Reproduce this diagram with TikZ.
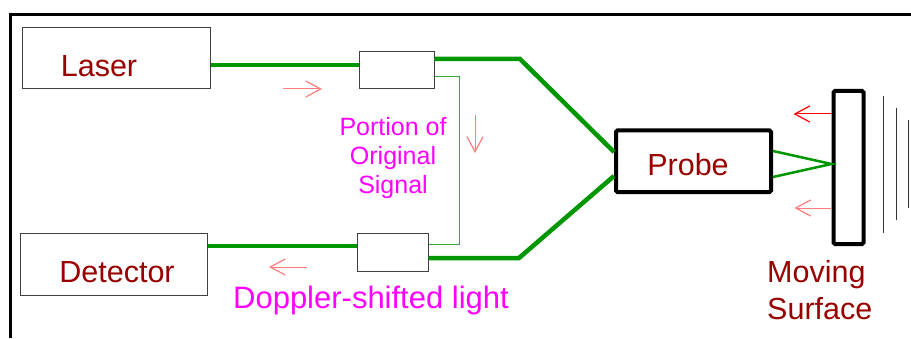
\documentclass[tikz,border=0pt]{standalone}
\usepackage{fontspec}
\setmainfont{Liberation Sans}
\usetikzlibrary{arrows.meta}
\definecolor{fibergreen}{RGB}{0,150,0}
\definecolor{darkred}{RGB}{153,0,0}
\definecolor{lightred}{RGB}{255,125,125}
\definecolor{pinktext}{RGB}{255,0,255}

\begin{document}
\begin{tikzpicture}[x=1pt,y=1pt,
  box/.style={rectangle,draw=black!75,line width=1pt,inner sep=0pt},
  heavybox/.style={rectangle,draw,line width=4pt,rounded corners=1.5pt,inner sep=0pt},
  fiber/.style={draw=fibergreen,line width=4.5pt},
  redarrow/.style={-{Straight Barb[length=15pt,width=16pt,line width=1.2pt]},line width=1pt,draw=lightred},
  bigtext/.style={font=\fontsize{30.5}{37}\selectfont,text=darkred,inner sep=0pt}]
  \useasboundingbox (0,0) rectangle (911,338);
  % frame
  \draw[line width=3pt] (10,0) -- (10,323) -- (911,323);

  % boxes
  \node[box,minimum width=188pt,minimum height=61pt] (laser) at (116,279.5) {};
  \node[box,minimum width=187pt,minimum height=62pt] (detector) at (113.5,74) {};
  \node[box,minimum width=75pt,minimum height=37pt] (cplA) at (396.5,267.5) {};
  \node[box,minimum width=71pt,minimum height=38pt] (cplB) at (392.5,86) {};
  \node[heavybox,minimum width=155pt,minimum height=61.5pt] (probe) at (693.5,176.75) {};
  \node[heavybox,minimum width=30pt,minimum height=153pt] (surface) at (848.5,170.5) {};

  % labels
  \node[bigtext,anchor=base] (laserText) at (99,261) {Laser};
  \node[bigtext,anchor=base] (detectorText) at (117,56) {Detector};
  \node[bigtext,anchor=base] (probeText) at (688,162) {Probe};
  \node[bigtext,anchor=north west,align=left] (surfaceText) at (767,78) {Moving\\Surface};
  \node[font=\fontsize{25}{29}\selectfont,text=pinktext,align=center,anchor=north,inner sep=0pt]
    (portionText) at (393,221) {Portion of\\Original\\Signal};
  \node[font=\fontsize{31}{37}\selectfont,text=pinktext,anchor=base,inner sep=0pt]
    (dopplerText) at (371,30) {Doppler-shifted light};

  % fibers
  \draw[fiber] ([yshift=-6.5pt]laser.east) -- ([yshift=5.5pt]cplA.west);
  \draw[fiber] ([yshift=11.5pt]cplA.east) -- (520,279) -- ([yshift=9.25pt]probe.west);
  \draw[fiber] ([yshift=18pt]detector.east) -- ([yshift=6pt]cplB.west);
  \draw[fiber] ([yshift=-6pt]cplB.east) -- (519,80) -- ([yshift=-14.75pt]probe.west);
  \draw[draw=fibergreen!80,line width=1pt] ([yshift=-6.5pt]cplA.east) -- ++(25,0) |- ([yshift=8pt]cplB.east);
  \draw[draw=fibergreen,line width=2.5pt] ([yshift=10.25pt]probe.east) -- ([yshift=3.5pt]surface.west)
    -- ([yshift=-15.75pt]probe.east);

  % light directions
  \draw[redarrow] (283,249) -- (322,249);
  \draw[redarrow] (475,223) -- (475,185);
  \draw[redarrow] (307,71) -- (269,71);
  \draw[redarrow,draw=red] ([yshift=53.5pt]surface.west) -- ++(-38,0);
  \draw[redarrow] ([yshift=-40.5pt]surface.west) -- ++(-37,0);

  % motion lines
  \foreach \x/\t/\b in {883/242/105, 896/230/118, 908/218/130}
    \draw[line width=1pt,black!80] (\x,\t) -- (\x,\b);
\end{tikzpicture}
\end{document}
